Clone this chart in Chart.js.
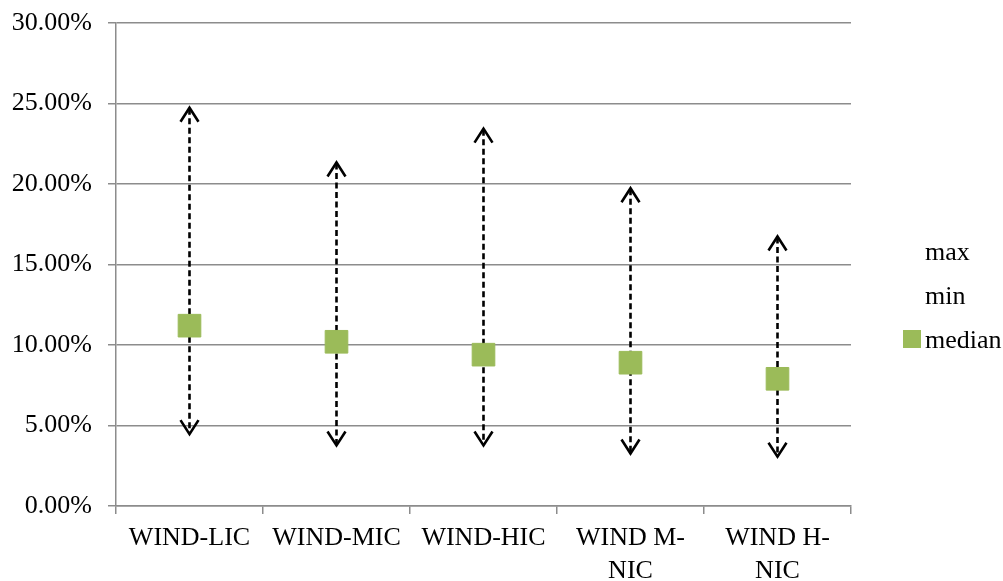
<!DOCTYPE html>
<html>
<head>
<meta charset="utf-8">
<script src="https://cdn.jsdelivr.net/npm/chart.js@4/dist/chart.umd.min.js"></script>
<style>
    body { margin: 0; background: #fff; overflow: hidden; }
    #wrap { width: 1003px; height: 581px; }
</style>
</head>
<body>
<div id="wrap"><canvas id="rangeChart" width="1003" height="581"></canvas></div>
<script>
// du lieu doc tu hinh (don vi: %)
const categories = ['WIND-LIC', 'WIND-MIC', 'WIND-HIC', ['WIND M-', 'NIC'], ['WIND H-', 'NIC']];
const maxValues = [24.8, 21.4, 23.5, 19.8, 16.8];
const minValues = [4.4, 3.7, 3.7, 3.2, 3.0];
const medianValues = [11.2, 10.2, 9.4, 8.9, 7.9];
const yTicks = [0, 5, 10, 15, 20, 25, 30];

const FONT = "'Liberation Serif', 'Times New Roman', serif";
const GRID = '#8c8c8c';
const GREEN = '#9BBB59';

// mui ten net dut tu min den max, ve truoc cac diem median
const arrowPlugin = {
    id: 'arrows',
    beforeDatasetsDraw(chart) {
        const ctx = chart.ctx;
        const xs = chart.scales.x, ys = chart.scales.y;
        const maxData = chart.data.datasets[0].data;
        const minData = chart.data.datasets[1].data;
        ctx.save();
        ctx.strokeStyle = '#000';
        ctx.lineWidth = 2.6;
        maxData.forEach((v, i) => {
            const x = xs.getPixelForValue(i);
            const yTop = ys.getPixelForValue(v);
            const yBot = ys.getPixelForValue(minData[i]);
            ctx.setLineDash([6, 3.5]);
            ctx.beginPath();
            ctx.moveTo(x, yTop + 2);
            ctx.lineTo(x, yBot - 2);
            ctx.stroke();
            ctx.setLineDash([]);
            ctx.beginPath();
            ctx.moveTo(x - 9, yTop + 15);
            ctx.lineTo(x, yTop + 1);
            ctx.lineTo(x + 9, yTop + 15);
            ctx.moveTo(x - 9, yBot - 15);
            ctx.lineTo(x, yBot - 1);
            ctx.lineTo(x + 9, yBot - 15);
            ctx.stroke();
        });
        ctx.restore();
    }
};

// chu giai ben phai (max, min khong co ky hieu)
const legendPlugin = {
    id: 'sideLegend',
    afterDraw(chart) {
        const ctx = chart.ctx;
        const rows = [260, 304, 348];
        ctx.save();
        ctx.font = '26px ' + FONT;
        ctx.fillStyle = '#000';
        ctx.textBaseline = 'alphabetic';
        chart.data.datasets.forEach((ds, i) => {
            const y = rows[i];
            if (ds.pointRadius > 0) {
                ctx.fillStyle = ds.backgroundColor;
                ctx.fillRect(903, y - 18, 18, 18);
                ctx.fillStyle = '#000';
            }
            ctx.fillText(ds.label, 925, y);
        });
        ctx.restore();
    }
};

new Chart(document.getElementById('rangeChart'), {
    type: 'line',
    data: {
        labels: categories,
        datasets: [
            { label: 'max', data: maxValues, showLine: false, pointRadius: 0, backgroundColor: 'transparent' },
            { label: 'min', data: minValues, showLine: false, pointRadius: 0, backgroundColor: 'transparent' },
            {
                label: 'median',
                data: medianValues,
                showLine: false,
                pointStyle: 'rect',
                pointRadius: 16,
                backgroundColor: GREEN,
                borderColor: GREEN,
                pointBorderWidth: 1
            }
        ]
    },
    options: {
        responsive: false,
        animation: false,
        layout: { padding: { left: 0, right: 152, top: 23, bottom: 0 } },
        plugins: {
            legend: { display: false },
            tooltip: { enabled: false }
        },
        scales: {
            x: {
                offset: true,
                afterFit: s => { s.height = 75; },
                grid: { drawOnChartArea: false, offset: true, tickLength: 8, color: GRID, lineWidth: 1.5 },
                border: { color: GRID, width: 1.5 },
                ticks: {
                    padding: 8,
                    color: '#000',
                    maxRotation: 0,
                    autoSkip: false,
                    font: { family: FONT, size: 26, lineHeight: 1.27 }
                }
            },
            y: {
                min: 0,
                max: 30,
                afterFit: s => {
                    s.width = 116;
                    s.paddingTop = 0;
                    s.paddingBottom = 0;
                },
                afterBuildTicks: s => { s.ticks = yTicks.map(v => ({ value: v })); },
                grid: { tickLength: 8, color: GRID, lineWidth: 1.5 },
                border: { color: GRID, width: 1.5 },
                ticks: {
                    padding: 16,
                    color: '#000',
                    font: { family: FONT, size: 26 },
                    callback: v => v.toFixed(2) + '%'
                }
            }
        }
    },
    plugins: [arrowPlugin, legendPlugin]
});
</script>
</body>
</html>
